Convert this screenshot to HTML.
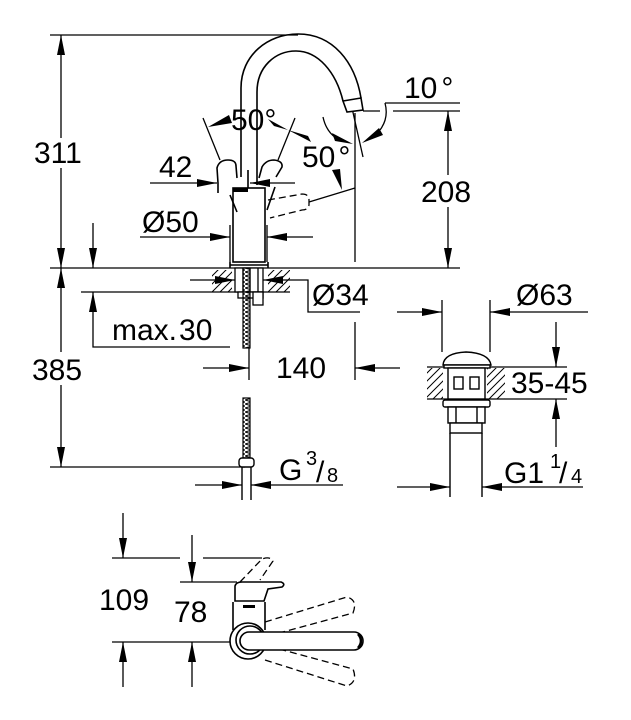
<!DOCTYPE html>
<html><head><meta charset="utf-8"><style>
html,body{margin:0;padding:0;background:#fff;}
svg{display:block;}
text{font-family:"Liberation Sans",Arial,sans-serif;fill:#000;}
</style></head><body>
<svg width="631" height="720" viewBox="0 0 631 720" xmlns="http://www.w3.org/2000/svg">
<defs>
<pattern id="hatch" width="8" height="8" patternUnits="userSpaceOnUse">
<path d="M-2,2 L2,-2 M0,8 L8,0 M6,10 L10,6" stroke="#000" stroke-width="1"/>
</pattern>
<pattern id="zz" width="7" height="4" patternUnits="userSpaceOnUse">
<path d="M0,0 L7,2 L0,4" stroke="#000" stroke-width="1" fill="none"/>
</pattern>
</defs>

<g stroke="#000" stroke-width="1.3" fill="none">
<!-- top reference line -->
<path d="M50,35 H298"/>
<!-- deck lines -->
<path d="M50,268 H460"/>
<path d="M81,292 H290"/>
<path d="M50,467 H245"/>
<!-- 311 dim -->
<path d="M61,35 V138 M61,168 V268"/>
<!-- 385 dim -->
<path d="M61,268 V352 M61,385 V467"/>
<!-- small arrow x=93 -->
<path d="M93,223 V268"/>
<!-- max 30 -->
<path d="M93,292 V347 H230"/>
<!-- 42 -->
<path d="M150,183 H217 M250,183 H295"/>
<!-- Ø50 -->
<path d="M140,237 H230 M267,237 H313"/>
<path d="M230,225 V262 M267,225 V262"/>
<!-- 208 -->
<path d="M363,111 H380 M393,111 H460"/>
<path d="M448,111 V175 M448,207 V268"/>
<!-- 10 deg -->
<path d="M385,103 H460"/>
<path d="M385,103 Q389,118 380,130"/>
<path d="M352,108 L363,157"/>
<!-- vertical from nozzle -->
<path d="M355,113 V262"/>
<!-- right 50 arc -->
<path d="M323,117 Q326,131 336,138"/>
<path d="M309,202 L355,188"/>
<!-- top 50 radial lines -->
<path d="M203,118 L220,160"/>
<path d="M295,118 L278,160"/>
<!-- Ø34 -->
<path d="M190,280 H235 M263,280 H308 V312 H360"/>
<!-- 140 -->
<path d="M249,348 V380 M203,368 H249 M355,322 V380 M355,368 H400"/>
<!-- G3/8 -->
<path d="M195,485 H242 M251,485 H343"/>
<!-- drain dims -->
<path d="M442,300 V352 M490,300 V352"/>
<path d="M397,312 H442 M490,312 H588"/>
<path d="M427,367 H567 M427,399 H567"/>
<path d="M556,322 V367 M556,399 V447"/>
<path d="M397,487 H450 M482,487 H583"/>
<!-- bottom view dims -->
<path d="M123,513 V558 M112,558 H180 M203,558 H262"/>
<path d="M192,535 V582 M180,582 H237"/>
<path d="M112,642 H232"/>
<path d="M123,642 V687 M192,642 V687"/>
</g>

<!-- arrowheads -->
<g fill="#000">
<polygon points="61,35 57,55 65,55"/>
<polygon points="61,268 57,248 65,248"/>
<polygon points="93,268 89,248 97,248"/>
<polygon points="61,268 57,288 65,288"/>
<polygon points="61,467 57,447 65,447"/>
<polygon points="93,292 89,312 97,312"/>
<polygon points="217,183 197,179 197,187"/>
<polygon points="250,183 270,179 270,187"/>
<polygon points="230,237 210,233 210,241"/>
<polygon points="267,237 287,233 287,241"/>
<polygon points="448,111 444,131 452,131"/>
<polygon points="448,268 444,248 452,248"/>
<polygon points="235,280 215,276 215,284"/>
<polygon points="263,280 283,276 283,284"/>
<polygon points="249,368 229,364 229,372"/>
<polygon points="355,368 375,364 375,372"/>
<polygon points="242,485 222,481 222,489"/>
<polygon points="251,485 271,481 271,489"/>
<polygon points="442,312 422,308 422,316"/>
<polygon points="490,312 510,308 510,316"/>
<polygon points="556,367 552,347 560,347"/>
<polygon points="556,399 552,419 560,419"/>
<polygon points="450,487 430,483 430,491"/>
<polygon points="482,487 502,483 502,491"/>
<polygon points="123,558 119,538 127,538"/>
<polygon points="192,582 188,562 196,562"/>
<polygon points="123,642 119,662 127,662"/>
<polygon points="192,642 188,662 196,662"/>
<!-- angle arrows -->
<polygon points="208,127 229,115 232,123"/>
<polygon points="288,130 268,119 274,126"/>
<polygon points="288,130 308,136 311,142"/>
<polygon points="353,144 332,133 335,141"/>
<polygon points="362,143 379,128 383,135"/>
<polygon points="342,190 332,170 340,169"/>
</g>

<!-- top faucet -->
<g stroke="#000" stroke-width="1.6" fill="none">
<path d="M241,177 L241,88 C241,55 268,34 298,34 C333,34 355,62 361,98"/>
<path d="M257,185 L257,92 C257,67 275,51 296,51 C318,51 336,72 343,101"/>
<polygon points="343,101 361,98 363,110 347,112" fill="#fff"/>
<rect x="233" y="188" width="32" height="74" fill="#fff"/>
<path d="M230,265 H268 M230,262 V268 M268,262 V268"/>
<path d="M248,170 V188"/>
<!-- handles -->
<path d="M218,183 L217,168 Q219,160 228,160 Q236,160 236,166 L237,178"/>
<path d="M218,183 V193 M230,195 L237,212"/>
<path d="M259,178 L262,167 Q266,160 274,160 Q283,161 282,167 L276,177"/>
<path d="M267,210 L275,187"/>
</g>
<rect x="233" y="188" width="15" height="4" fill="#000"/>
<path d="M268,200 L302,194 Q309,194 309,200 L309,205 Q308,210 302,210 L270,218" stroke="#000" stroke-width="1.3" fill="none" stroke-dasharray="7,4"/>

<!-- below deck mount -->
<rect x="212" y="270" width="20" height="22" fill="url(#hatch)"/>
<rect x="268" y="270" width="22" height="22" fill="url(#hatch)"/>
<g stroke="#000" stroke-width="1.3" fill="#fff">
<rect x="235" y="268" width="28" height="24"/>
<rect x="238" y="292" width="25" height="6"/>
<rect x="253" y="292" width="10" height="13"/>
<path d="M243,268 V292 M250,268 V292 M258,268 V292" fill="none"/>
</g>
<rect x="243" y="268" width="7" height="80" fill="url(#zz)" stroke="#000" stroke-width="1.2"/>
<rect x="243" y="398" width="7" height="60" fill="url(#zz)" stroke="#000" stroke-width="1.2"/>
<g stroke="#000" stroke-width="1.4" fill="#fff">
<rect x="239" y="458" width="15" height="9" rx="3"/>
<path d="M242,467 V500 M251,467 V500" fill="none"/>
</g>

<!-- drain -->
<rect x="427" y="368" width="16" height="31" fill="url(#hatch)"/>
<rect x="487" y="368" width="18" height="31" fill="url(#hatch)"/>
<g stroke="#000" stroke-width="1.4" fill="#fff">
<path d="M443,365 Q444,353 466,352 Q489,353 491,365 Z"/>
<rect x="444" y="365" width="46" height="3"/>
<rect x="448" y="368" width="37" height="31"/>
<rect x="454" y="377" width="9" height="12"/>
<rect x="470" y="377" width="9" height="12"/>
<rect x="443" y="400" width="47" height="7" rx="2"/>
<rect x="448" y="407" width="37" height="16"/>
<path d="M456,407 V423 M477,407 V423" fill="none"/>
<rect x="450" y="423" width="32" height="10"/>
<path d="M450,433 V497 M482,433 V497" fill="none"/>
</g>

<!-- bottom view -->
<g stroke="#000" stroke-width="1.3" fill="none" stroke-dasharray="7,4">
<path d="M240,582 L262,559 Q270,556 273,561 L260,580"/>
<path d="M265,622 L347,597 Q358,600 353,613 L268,636"/>
<path d="M265,660 L347,686 Q358,682 353,669 L268,646"/>
</g>
<g stroke="#000" stroke-width="1.6" fill="#fff">
<path d="M233,602 V630 M265,602 V630" fill="none"/>
<circle cx="248" cy="641" r="18"/>
<circle cx="250" cy="640" r="14"/>
<rect x="240" y="632" width="123" height="18" rx="9"/>
<path d="M235,601 L235,586 Q236,582 242,582 L281,582 Q286,584 282,587 L268,589 L264,601 Z"/>
</g>
<path d="M358,634 Q364,641 358,648" stroke="#000" stroke-width="2.5" fill="none"/>
<rect x="243" y="605" width="12" height="3" fill="#000"/>

<!-- text -->
<g font-size="30">
<text x="34" y="163">311</text>
<text x="159" y="177">42</text>
<text x="142" y="232">Ø50</text>
<text x="231" y="130">50°</text>
<text x="302" y="167">50<tspan dx="3">°</tspan></text>
<text x="404" y="98">10<tspan dx="4">°</tspan></text>
<text x="421" y="202">208</text>
<text x="312" y="305">Ø34</text>
<text x="112" y="340">max.<tspan dx="2">30</tspan></text>
<text x="32" y="380">385</text>
<text x="276" y="378">140</text>
<text x="279" y="480">G</text>
<text x="516" y="305">Ø63</text>
<text x="511" y="393">35-45</text>
<text x="504" y="483">G1</text>
<text x="99" y="610">109</text>
<text x="174" y="622">78</text>
</g>
<g font-size="20">
<text x="306" y="465">3</text>
<text x="327" y="482">8</text>
<text x="550" y="468">1</text>
<text x="571" y="483">4</text>
</g>
<g font-size="30">
<text x="316" y="482">/</text>
<text x="559" y="483">/</text>
</g>
</svg>
</body></html>
